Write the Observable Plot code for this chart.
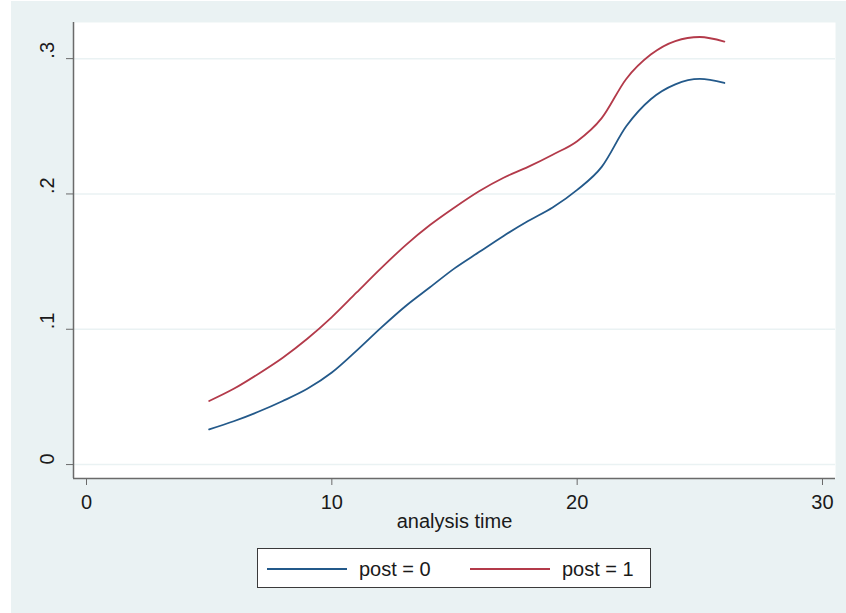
<!DOCTYPE html>
<html>
<head>
<meta charset="utf-8">
<script src="https://cdn.jsdelivr.net/npm/d3@7"></script>
<script src="https://cdn.jsdelivr.net/npm/@observablehq/plot@0.6"></script>
<style>
  html, body { margin: 0; padding: 0; background: #ffffff; }
  #page { position: relative; width: 846px; height: 613px; overflow: hidden; font-family: "Liberation Sans", Arial, Helvetica, sans-serif; }
  #bg { position: absolute; left: 11px; top: 1px; width: 835px; height: 612px; background: #EAF2F3; }
  #chart { position: absolute; left: 11px; top: 0px; }
  #legend { position: absolute; left: 257px; top: 548px; width: 392px; height: 38px; background: #ffffff; border: 1px solid #3a3a3a; }
  .sw { position: absolute; top: 19px; width: 80px; height: 2px; }
  .lt { position: absolute; top: 8px; font-size: 20px; color: #1a1a1a; line-height: 24px; white-space: nowrap; }
</style>
</head>
<body>
<div id="page">
  <div id="bg"></div>
  <div id="chart"></div>
  <div id="legend"></div>
</div>
<script>
// ---- data ----
const time  = [5, 6, 7, 8, 9, 10, 11, 12, 13, 14, 15, 16, 17, 18, 19, 20, 21, 22, 23, 24, 25, 26];
const post0 = [0.026, 0.032, 0.039, 0.047, 0.056, 0.068, 0.084, 0.101, 0.117, 0.131, 0.145, 0.157, 0.169, 0.180, 0.190, 0.203, 0.220, 0.250, 0.270, 0.281, 0.285, 0.282];
const post1 = [0.047, 0.056, 0.067, 0.079, 0.093, 0.109, 0.127, 0.145, 0.162, 0.177, 0.190, 0.202, 0.212, 0.220, 0.229, 0.239, 0.256, 0.285, 0.303, 0.313, 0.316, 0.3126];
const seriesNames = ["post = 0", "post = 1"];
const seriesColors = ["#23598a", "#b33a4a"];
const xTicks = [0, 10, 20, 30];
const yTicks = [0, 0.1, 0.2, 0.3];
const xTitle = "analysis time";

const rows = [];
time.forEach((t, i) => {
  rows.push({t, v: post0[i], s: seriesNames[0]});
  rows.push({t, v: post1[i], s: seriesNames[1]});
});

const xmin = -0.53, xmax = 30.53, ymin = -0.0103, ymax = 0.3267;
const fmtY = d => d === 0 ? "0" : d3.format(".1f")(d).replace(/^0/, "");
const axisColor = "#6a6a6a";

const chart = Plot.plot({
  width: 835,
  height: 540,
  marginLeft: 62,
  marginRight: 11,
  marginTop: 22,
  marginBottom: 62,
  style: { background: "transparent", fontFamily: "'Liberation Sans', Arial, Helvetica, sans-serif", fontSize: "20px", color: "#1a1a1a" },
  x: { domain: [xmin, xmax] },
  y: { domain: [ymin, ymax] },
  color: { domain: seriesNames, range: seriesColors },
  marks: [
    Plot.frame({ fill: "white", stroke: null }),
    Plot.ruleY(yTicks, { stroke: "#EAF2F3", strokeWidth: 1.5 }),
    Plot.line(rows, { x: "t", y: "v", stroke: "s", curve: "monotone-x", strokeWidth: 1.8 }),
    Plot.axisX({ ticks: xTicks, tickSize: 7, tickPadding: 9, fontSize: 20, label: null, stroke: axisColor }),
    Plot.axisY({ ticks: yTicks, tickSize: 7, tickFormat: () => "", label: null, stroke: axisColor }),
    Plot.text(yTicks, { y: d => d, frameAnchor: "left", text: fmtY, rotate: -90, dx: -26, fontSize: 20, fill: "#1a1a1a" }),
    Plot.text([xTitle], { frameAnchor: "bottom", text: d => d, dy: 49, fontSize: 20, fill: "#1a1a1a" }),
    Plot.ruleX([xmin], { stroke: axisColor, strokeWidth: 1.5 }),
    Plot.ruleY([ymin], { stroke: axisColor, strokeWidth: 1.5 })
  ]
});
document.getElementById("chart").appendChild(chart);

// ---- legend ----
const legend = document.getElementById("legend");
const swX = [9, 212], txX = [101, 304];
seriesNames.forEach((name, i) => {
  const sw = document.createElement("div");
  sw.className = "sw";
  sw.style.left = swX[i] + "px";
  sw.style.background = seriesColors[i];
  legend.appendChild(sw);
  const tx = document.createElement("div");
  tx.className = "lt";
  tx.style.left = txX[i] + "px";
  tx.textContent = name;
  legend.appendChild(tx);
});
</script>
</body>
</html>
